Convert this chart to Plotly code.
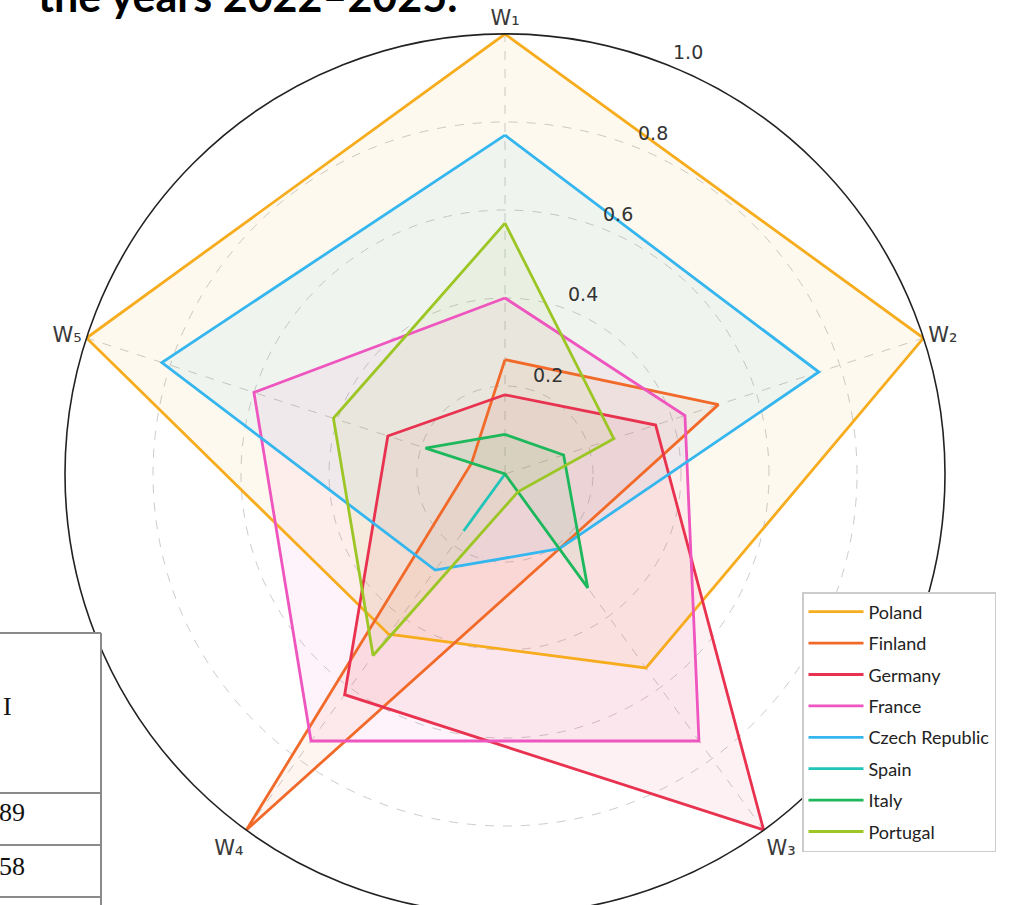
import math
import plotly.graph_objects as go

# ---- data ----
axes_labels = ["W₁", "W₂", "W₃", "W₄", "W₅"]
axes_theta = [0, 72, 144, 216, 288]
countries = ["Poland", "Finland", "Germany", "France", "Czech Republic", "Spain", "Italy", "Portugal"]
poland = [1.00, 1.00, 0.545, 0.45, 1.00]
finland = [0.26, 0.51, 0.21, 1.00, 0.08]
germany = [0.18, 0.36, 1.00, 0.62, 0.28]
france = [0.40, 0.43, 0.75, 0.75, 0.60]
czech = [0.77, 0.75, 0.21, 0.27, 0.82]
spain = [0.00, 0.00, 0.00, 0.16, 0.00]
italy = [0.09, 0.14, 0.32, 0.00, 0.19]
portugal = [0.57, 0.26, 0.05, 0.51, 0.41]
series = [poland, finland, germany, france, czech, spain, italy, portugal]
colors = ["#F7AC1E", "#F26A2A", "#E8324F", "#EE55BE", "#35B6EE", "#20C4B8", "#1DB85C", "#9CC625"]
radial_ticks = [0.2, 0.4, 0.6, 0.8, 1.0]
radial_tick_text = ["0.2", "0.4", "0.6", "0.8", "1.0"]
title_text = "the years 2022–2025."
table_texts = ["I", "89", "58"]

W, H = 1010, 914
ML, MR, MT, MB = 65, 65, 34, 0
PW, PH = W - ML - MR, H - MT - MB
R_MAX = 1.0
LABEL_ANGLE = 23.5   # degrees clockwise from W1 for radial tick labels
LABEL_PAD = 0.045    # outward shift of radial tick labels (in data units)


def px_x(px):
    return (px - ML) / PW


def px_y(py):
    return 1 - (py - MT) / PH


def hex_rgba(h, a):
    h = h.lstrip("#")
    return "rgba(%d,%d,%d,%.3f)" % (int(h[0:2], 16), int(h[2:4], 16), int(h[4:6], 16), a)


fig = go.Figure()

# fills (no legend)
for name, vals, col in zip(countries, series, colors):
    fig.add_trace(go.Scatterpolar(
        r=vals + [vals[0]], theta=axes_theta + [axes_theta[0]],
        mode="lines", fill="toself", fillcolor=hex_rgba(col, 0.07),
        line=dict(width=0, color=col), showlegend=False, hoverinfo="skip"))

# lines (legend)
for name, vals, col in zip(countries, series, colors):
    fig.add_trace(go.Scatterpolar(
        r=vals + [vals[0]], theta=axes_theta + [axes_theta[0]],
        mode="lines", name=name, legendgroup=name,
        line=dict(width=2.8, color=col)))

fig.update_layout(
    width=W, height=H,
    margin=dict(l=ML, r=MR, t=MT, b=MB),
    paper_bgcolor="white", plot_bgcolor="white",
    polar=dict(
        domain=dict(x=[0, 1], y=[0, 1]),
        bgcolor="white",
        angularaxis=dict(
            direction="clockwise", rotation=90,
            tickmode="array", tickvals=axes_theta, ticktext=axes_labels,
            tickfont=dict(family="DejaVu Sans", size=21, color="#3a3a3a"),
            showline=True, linecolor="#222222", linewidth=1.6,
            showgrid=True, gridcolor="#cccccc", griddash="dash", gridwidth=1,
            ticks="",
        ),
        radialaxis=dict(
            range=[0, R_MAX], tickmode="array", tickvals=radial_ticks,
            showticklabels=False, showline=False, ticks="",
            showgrid=True, gridcolor="#cccccc", griddash="dash", gridwidth=1,
        ),
    ),
    legend=dict(
        x=px_x(802), y=px_y(592), xanchor="left", yanchor="top",
        bgcolor="white", bordercolor="#cccccc", borderwidth=1.5,
        font=dict(family="Lato", size=18, color="#222222"),
        tracegroupgap=5, itemwidth=55,
    ),
    showlegend=True,
)

# radial tick labels placed along a ray, from the polar geometry
cx, cy = 0.5, 0.5
for tv, tt in zip(radial_ticks, radial_tick_text):
    rr = (tv + LABEL_PAD) / R_MAX * 0.5  # as fraction of the (square) domain
    a = math.radians(LABEL_ANGLE)
    fig.add_annotation(
        text=tt, xref="paper", yref="paper",
        x=cx + rr * math.sin(a), y=cy + rr * math.cos(a),
        xanchor="center", yanchor="middle", showarrow=False,
        font=dict(family="DejaVu Sans", size=19, color="#333333"))

# title fragment at top-left
fig.add_annotation(
    text="<b>" + title_text + "</b>", xref="paper", yref="paper",
    x=px_x(36), y=px_y(-4), xanchor="left", yanchor="middle", showarrow=False,
    font=dict(family="Lato", size=43, color="#000000"))

# table fragment at bottom-left
fig.add_shape(type="rect", xref="paper", yref="paper",
              x0=px_x(-5), x1=px_x(101), y0=px_y(633), y1=px_y(920),
              fillcolor="white", line=dict(width=0), layer="above")
for y in [633, 793, 845, 897]:
    fig.add_shape(type="line", xref="paper", yref="paper",
                  x0=px_x(-5), x1=px_x(101), y0=px_y(y), y1=px_y(y),
                  line=dict(color="#8a8a8a", width=2), layer="above")
fig.add_shape(type="line", xref="paper", yref="paper",
              x0=px_x(101), x1=px_x(101), y0=px_y(633), y1=px_y(920),
              line=dict(color="#8a8a8a", width=2), layer="above")
for txt, cyy, rx in zip(table_texts, [706, 812, 866], [14, 27, 27]):
    fig.add_annotation(text=txt, xref="paper", yref="paper",
                       x=px_x(rx), y=px_y(cyy), xanchor="right", yanchor="middle",
                       showarrow=False,
                       font=dict(family="Liberation Serif", size=26, color="#111111"))

fig.write_html("out.html", post_script=(
    "document.documentElement.style.overflow='hidden';"
    "document.body.style.overflow='hidden';document.body.style.margin='0';"))
